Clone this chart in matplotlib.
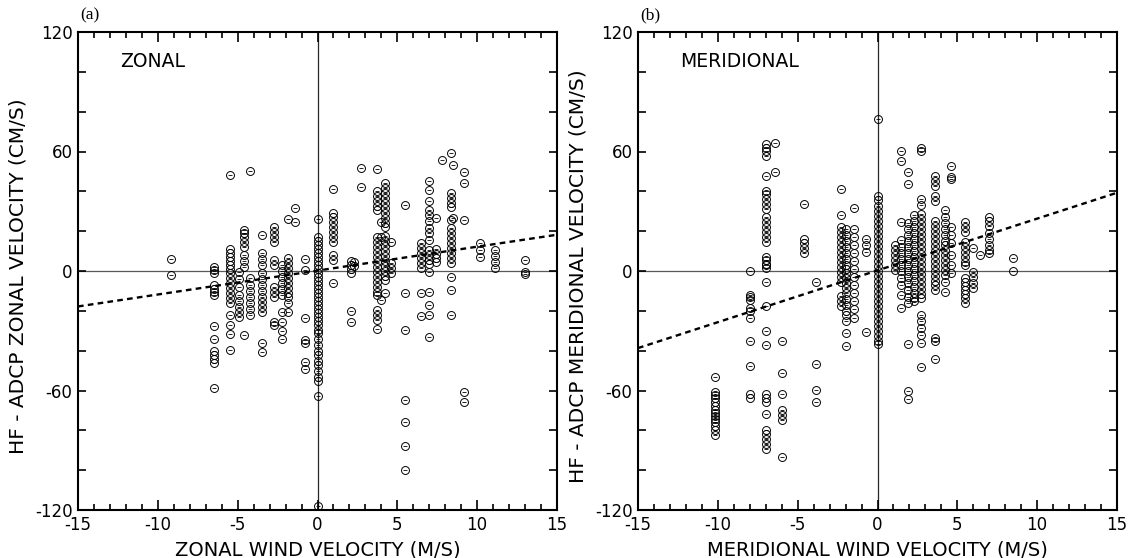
import numpy as np
import matplotlib
matplotlib.use('Agg')
import matplotlib.pyplot as plt
from matplotlib.ticker import MultipleLocator

# zonal: wind speed columns (m/s) and HF - ADCP velocity differences (cm/s)
zonal_wind = [-9.2, -6.5, -5.5, -4.9, -4.6, -4.2, -3.5, -2.75, -2.2, -1.85, -1.4, -0.77,
              0.0, 1.0, 2.1, 2.3, 2.7, 3.7, 4.0, 4.2, 4.6, 5.5, 6.5, 7.0, 7.4, 7.8,
              8.35, 8.5, 9.2, 10.2, 11.1, 13.0]
zonal_diff = [
    [6, -2],
    [2, 0.5, -1, -7, -9, -10.5, -12, -27.5, -34, -40, -42, -44, -46, -58.5],
    [48, 11, 9, 7, 5, 3, 1, -1, -3.5, -6, -8.5, -11, -13.5, -16, -22, -27, -31.5, -39.5],
    [-0.5, -4, -8, -12, -15, -18, -20.5, -23],
    [20.5, 19, 17, 14.5, 12, 8, 5, 2, -32],
    [50, -3.5, -7, -10, -13, -16, -19, -22],
    [18.3, 9, 6, 3, -1, -4, -7, -10, -13, -15.5, -18, -20.5, -36, -40.5],
    [22, 19.5, 17, 14.7, 5.5, 3, -8, -10.5, -13, -25.5, -27],
    [3, 0, -3, -6, -9, -12, -20.5, -25.5, -30, -34],
    [26, 6.5, 4, 1.5, -1, -3.5, -6, -8.5, -11, -13, -16, -20.5],
    [31.8, 24.5],
    [6, 0.5, -23.5, -34.5, -36, -45.5, -49],
    [26, 17, 15, 13, 11, 9, 7, 5, 3, 1, -1, -3, -5, -7, -9, -11, -13, -15, -17, -19,
     -21, -23, -25, -27, -29.5, -31, -34, -37, -40, -42, -45, -47, -50, -53, -55, -63, -118],
    [41, 29, 27, 24.5, 22, 19.5, 17, 14.5, 8, 5.5, -6],
    [5, 3, 1, -1, -20, -25.5],
    [4.5, 2.5],
    [51.6, 42],
    [51, 40, 37.5, 35, 32.5, 30.5, 17, 14.5, 12, 9.5, 7, 4.5, 2, -0.5, -3, -5.5, -8,
     -10.5, -12, -19.5, -22, -24.5, -29],
    [24.5, 17, -14.5],
    [44, 41.5, 39, 36.5, 34, 31.5, 29, 26.5, 24, 22, 17.5, 15, 12.5, 10, 7.5, 5, 2.5,
     0, -2.5, -4.5, -11],
    [14.5, 4, 1.5, -1],
    [33, -11, -29.5, -65, -76, -88, -100],
    [14, 11.5, 9, 6.5, 4, 1.5, -11, -22.5],
    [45, 40.7, 35, 30.5, 28, 25, 21.5, 19, 15.5, 10.5, 8, 5.5, 3.5, -0.3, -10.4, -17, -22, -33],
    [26.5, 11, 8.5, 6.5, 4.5],
    [55.5],
    [59, 39, 36.5, 34, 32.3, 25.6, 21.5, 19, 16.5, 14, 11.5, 9, 6.5, 4, -3, -9.5, -22],
    [53, 26.5],
    [49.6, 44, 25.6, -60.6, -65.7],
    [14, 10.5, 7],
    [10.5, 7.5, 4.5, 1.5],
    [5.5, -0.5, -1.5],
]
zonal_fit = [1.2, 0.2]  # slope, intercept

# meridional: wind speed columns (m/s) and HF - ADCP velocity differences (cm/s)
merid_wind = [-10.2, -8.0, -7.0, -6.4, -6.0, -4.6, -3.85, -2.3, -2.0, -1.5, -0.75, 0.0,
              1.1, 1.5, 1.9, 2.3, 2.75, 3.6, 4.2, 4.6, 5.5, 6.0, 6.4, 7.0, 8.5]
merid_diff = [
    [-53, -61, -62.5, -64, -66, -68, -70, -71.5, -73, -74.5, -76, -78, -80, -82.5],
    [0, -12, -13.3, -14.5, -18.7, -20, -23.5, -35, -47.5, -61.7, -64],
    [63.6, 62, 60.5, 57.8, 47.8, 40.3, 38.6, 36.1, 33.6, 31.1, 27, 24.5, 22, 19.5, 17, 14.6,
     7, 5.3, 3.7, 2.8, 1.3, -5.3, -17.7, -30.2, -37, -61.7, -63.8, -65.9, -71.7,
     -79.6, -82, -84.6, -87, -89.5],
    [64.4, 49.8],
    [-35, -51, -61.7, -70, -72.5, -75, -93.3],
    [33.7, 16.3, 14, 11.5, 9],
    [-5.3, -46.8, -59.5, -66],
    [41.2, 28.2, 22, 19.5, 17, 14.5, 12, 9.5, 7, 4.5, 2, -0.5, -3, -5.3, -12.7, -15, -17.7],
    [21, 18, 15, 12, 9, 6, 3, 1, -1, -3.5, -6, -8.5, -11, -14, -17, -20, -22, -25, -31, -37.6],
    [31.6, 21, 17, 13, 9, 5, 1, -3, -7, -11, -15, -19, -23.5],
    [16.3, 13, 9.7, -30.5],
    [76.4, 37.8, 35.5, 32.5, 30, 27.5, 25, 22.5, 20, 17.5, 15, 12.5, 10, 7.5, 5, 2.5, 0,
     -2.5, -5, -7.5, -10, -12.5, -15, -17.5, -20, -22.5, -25, -27.5, -30, -32.5, -35, -36.8],
    [13, 10.5, 8, 5.5, 3, 0.5],
    [60.3, 55.3, 24.6, 15.4, 12, 9, 6, 3, 0, -3.5, -7, -12, -18.6],
    [49.8, 43.7, 24, 21, 18, 15, 12, 9, 6, 3, 0, -3, -6, -9.5, -13, -16, -36.8, -60, -64.2],
    [28, 25, 22, 19, 16, 13, 10, 7, 4, 1, -2, -5, -8, -11, -13.6, -15],
    [62, 60.5, 36, 33, 28.7, 26, 23.5, 21, 18.5, 16, 13.5, 11, 8.5, 6, 3.5, 1, -1.5, -4,
     -6.5, -9, -11.5, -13.6, -22, -25.3, -28.6, -32.3, -36, -48],
    [47.8, 45, 42.8, 37.8, 35.3, 25, 22.5, 20, 17.5, 15, 12.5, 10, 7.5, 5, 2.5, 0, -2.5,
     -5, -7, -9.5, -33.5, -35.2, -44.3],
    [30.4, 27, 24, 21, 18, 15, 13, 10.5, 8, 5.5, 3, 0.5, -2, -5.3, -10.3],
    [52.8, 47, 46, 22, 18, 14, 8, 3, -1],
    [24.6, 22, 19.6, 14.6, 12, 9.5, 7, 4.5, 3, -3.6, -5.5, -7.5, -9.5, -11.5, -13.5, -16],
    [11.3, -0.3, -3, -6, -8.6],
    [8],
    [27, 25, 22.5, 19, 16, 13, 10.5, 8.8],
    [6.3, 0],
]
merid_fit = [2.6, 0.3]  # slope, intercept


def draw_panel(ax, wind, diff, fit, title, xlabel, ylabel, tag):
    xs = np.concatenate([[w] * len(d) for w, d in zip(wind, diff)])
    ys = np.concatenate([np.asarray(d, dtype=float) for d in diff])

    ax.axhline(0, color='0.35', lw=0.9, zorder=1)
    ax.axvline(0, color='0.15', lw=0.9, zorder=1)

    ax.plot(xs, ys, 'o', ms=5.7, mfc='none', mec='k', mew=0.7, zorder=3)
    ax.plot(xs, ys, '_', ms=3.4, mec='k', mew=0.6, zorder=3)

    xx = np.array([-15.0, 15.0])
    ax.plot(xx, fit[0] * xx + fit[1], color='k', lw=1.7, ls=(0, (2.4, 1.8)), zorder=2)

    ax.set_xlim(-15, 15)
    ax.set_ylim(-120, 120)
    ax.xaxis.set_major_locator(MultipleLocator(5))
    ax.xaxis.set_minor_locator(MultipleLocator(1))
    ax.yaxis.set_major_locator(MultipleLocator(60))
    ax.yaxis.set_minor_locator(MultipleLocator(20))
    ax.xaxis.set_major_formatter(plt.FuncFormatter(lambda v, p: '%d' % v))
    ax.yaxis.set_major_formatter(plt.FuncFormatter(lambda v, p: '%d' % v))
    ax.tick_params(which='both', direction='in', top=True, right=True,
                   labelsize=12, width=1.2, pad=4)
    ax.tick_params(axis='x', which='major', length=7)
    ax.tick_params(axis='x', which='minor', length=4)
    ax.tick_params(axis='y', which='both', length=6)
    for sp in ax.spines.values():
        sp.set_linewidth(1.5)

    ax.text(0.088, 0.938, title, transform=ax.transAxes, fontsize=13.5,
            ha='left', va='center')
    ax.text(0.004, 1.035, tag, transform=ax.transAxes, fontsize=12.5,
            family='Liberation Serif', ha='left', va='center')

    ax.set_xlabel(xlabel, fontsize=14, labelpad=5)
    ax.set_ylabel(ylabel, fontsize=14.5)
    ax.yaxis.set_label_coords(-0.105, 0.49)


fig = plt.figure(figsize=(11.28, 5.58), dpi=100)
ax1 = fig.add_axes([78 / 1128, 48 / 558, 479 / 1128, 478 / 558])
ax2 = fig.add_axes([638 / 1128, 48 / 558, 479 / 1128, 478 / 558])

draw_panel(ax1, zonal_wind, zonal_diff, zonal_fit, 'ZONAL',
           'ZONAL WIND VELOCITY (M/S)', 'HF - ADCP ZONAL VELOCITY (CM/S)', '(a)')
draw_panel(ax2, merid_wind, merid_diff, merid_fit, 'MERIDIONAL',
           'MERIDIONAL WIND VELOCITY (M/S)', 'HF - ADCP MERIDIONAL VELOCITY (CM/S)', '(b)')

fig.savefig('out.png', dpi=100)
